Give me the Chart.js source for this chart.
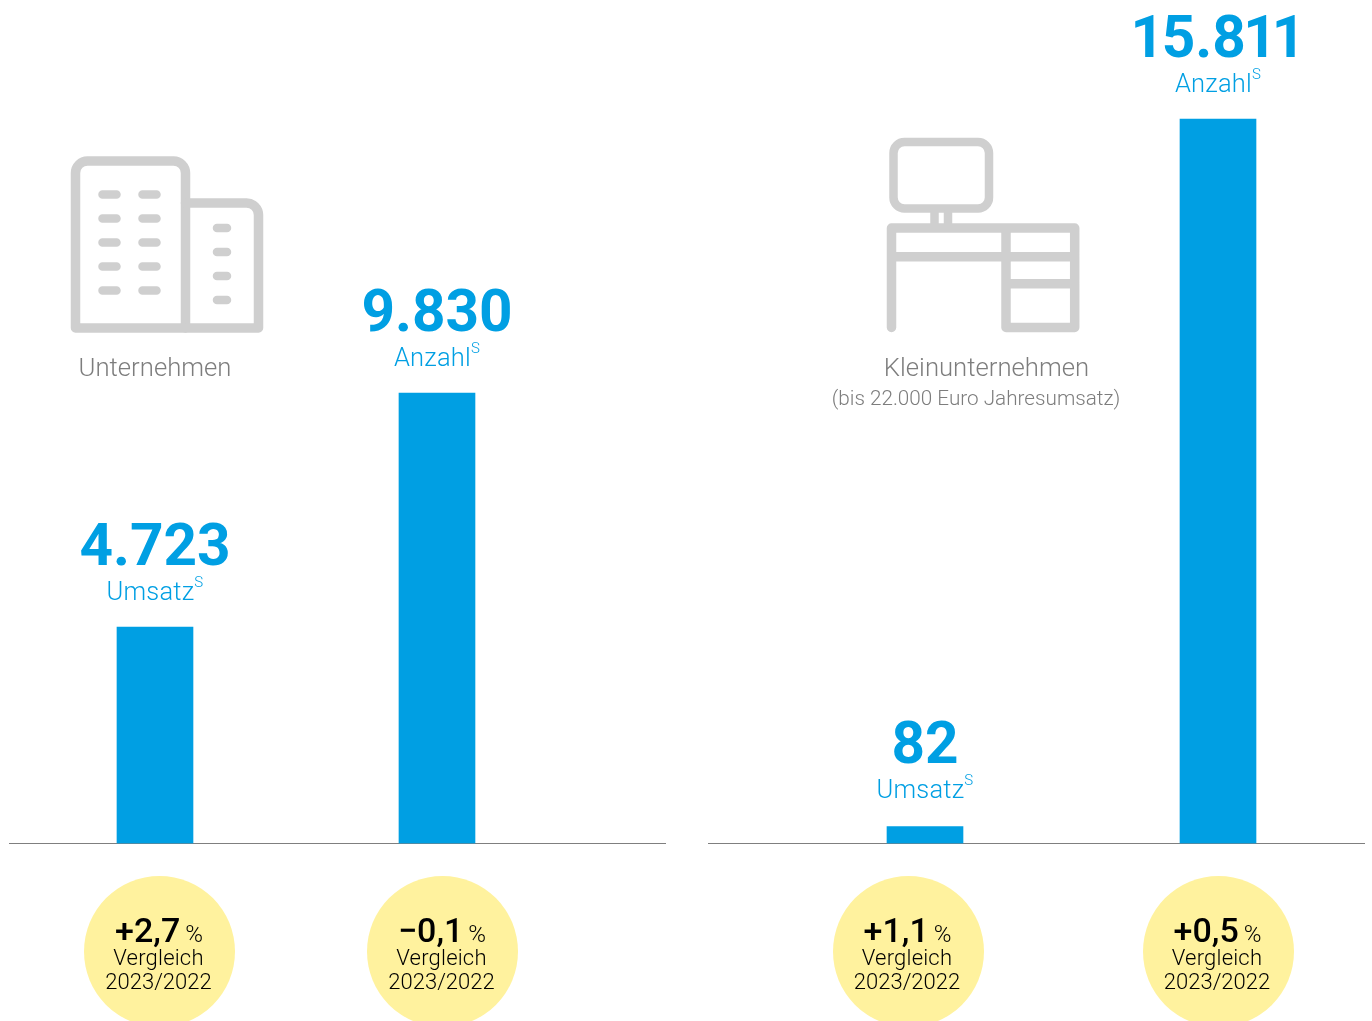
<!DOCTYPE html>
<html lang="de">
<head>
<meta charset="utf-8">
<script src="https://cdn.jsdelivr.net/npm/chart.js@4"></script>
<style>
html,body{margin:0;padding:0;background:#fff;width:1372px;height:1021px;overflow:hidden}
#page{position:relative;width:1372px;height:1021px;overflow:hidden;font-family:Roboto,sans-serif}
canvas{position:absolute;top:0}
.t{position:absolute;white-space:nowrap;transform:translateX(-50%);line-height:1}
.c{position:absolute;width:151px;height:151px;border-radius:50%;background:#fff29e;top:876px}
svg{position:absolute;left:0;top:0}
</style>
</head>
<body>
<div id="page">
<canvas id="left" width="657" height="1021" style="left:9px"></canvas>
<canvas id="right" width="657" height="1021" style="left:708px"></canvas>
<svg width="1372" height="1021" fill="none" stroke="#cfcfcf" stroke-width="9.5" stroke-linecap="round" stroke-linejoin="round">
  <path d="M75.5 328V173a12 12 0 0 1 12-12h86a12 12 0 0 1 12 12V328z"/>
  <path d="M185.5 203h61a12 12 0 0 1 12 12V328H185.5"/>
  <g stroke-width="8.5">
    <path d="M102.5 194.5h14M142.5 194.5h14M102.5 218.5h14M142.5 218.5h14M102.5 242.5h14M142.5 242.5h14M102.5 266.5h14M142.5 266.5h14M102.5 290.5h14M142.5 290.5h14"/>
    <path d="M217 228h10M217 252h10M217 276h10M217 300h10"/>
    <rect x="893.5" y="142" width="95.5" height="66.5" rx="11"/>
    <path d="M934.5 212v12M948 212v12"/>
  </g>
  <path d="M891.5 228H1074.7V327.5H1006V228M891.5 228V327.5M891.5 256.7H1074.7M1006 283.7H1074.7"/>
</svg>
</div>
<script>
const leftCategories = ["Umsatz", "Anzahl"];
const leftValues = [4723, 9830];
const leftValueLabels = ["4.723", "9.830"];
const rightCategories = ["Umsatz", "Anzahl"];
const rightValues = [82, 15811];
const rightValueLabels = ["82", "15.811"];
const changes = ["+2,7", "\u22120,1", "+1,1", "+0,5"];
const changeCenters = [159.5, 442.5, 908, 1218];
const compareLabel = "Vergleich";
const compareYears = "2023/2022";
const BLUE = "#009fe3";
const Y_MAX = 18410;

const valueLabels = {
  id: "valueLabels",
  afterDatasetsDraw(chart, args, opts) {
    const ctx = chart.ctx;
    const meta = chart.getDatasetMeta(0);
    meta.data.forEach((bar, i) => {
      ctx.save();
      ctx.fillStyle = BLUE;
      ctx.textBaseline = "alphabetic";
      ctx.textAlign = "left";
      // the stub bar's labels sit slightly higher in the reference
      const lift = chart.data.datasets[0].data[i].y < 1000 ? 2 : 0;
      ctx.font = "700 58.5px Roboto, sans-serif";
      // the reference sets the digit 1 narrower than the other figures
      const label = opts.labels[i];
      const chars = [...label];
      const adv = c => ctx.measureText(c).width - (c === "1" ? 5 : 0);
      const total = chars.reduce((s, c) => s + adv(c), 0);
      let cx = bar.x - total / 2;
      const by = bar.y - 62 - lift;
      if (!label.includes("1")) {
        ctx.fillText(label, cx, by);
      } else {
        chars.forEach(c => {
          ctx.fillText(c, cx - (c === "1" ? 2.5 : 0), by);
          cx += adv(c);
        });
      }
      const name = chart.data.labels[i];
      ctx.font = "300 25.5px Roboto, sans-serif";
      ctx.letterSpacing = "0.2px";
      const w = ctx.measureText(name).width;
      ctx.font = "300 15px Roboto, sans-serif";
      const sw = ctx.measureText("S").width;
      const x0 = bar.x - (w + sw) / 2;
      ctx.font = "300 25.5px Roboto, sans-serif";
      ctx.fillText(name, x0, bar.y - 27 - lift);
      ctx.font = "300 15px Roboto, sans-serif";
      ctx.fillText("S", x0 + w, bar.y - 40 - lift);
      ctx.restore();
    });
  }
};

function build(id, labels, values, texts, xMin, xMax) {
  new Chart(document.getElementById(id), {
    type: "bar",
    data: {
      labels,
      datasets: [{
        data: values.map((v, i) => ({ x: i, y: v })),
        backgroundColor: BLUE,
        barThickness: 76,
        minBarLength: 17,
        borderWidth: 0
      }]
    },
    options: {
      responsive: false,
      animation: false,
      layout: { padding: { bottom: 177.5, top: 0, left: 0, right: 0 } },
      plugins: { legend: { display: false }, tooltip: { enabled: false }, valueLabels: { labels: texts } },
      scales: {
        x: {
          type: "linear", min: xMin, max: xMax, offset: false,
          grid: { display: false, drawTicks: false, offset: false },
          ticks: { display: false },
          border: { color: "#7f7f7f", width: 1 },
          afterFit(s) { s.height = 0; }
        },
        y: { display: false, min: 0, max: Y_MAX }
      }
    },
    plugins: [valueLabels]
  });
}
build("left", leftCategories, leftValues, leftValueLabels, -0.5177, 1.8121);
build("right", rightCategories, rightValues, rightValueLabels, -0.7406, 1.5017);

function text(str, x, baseline, size, color, weight, spacing) {
  const d = document.createElement("div");
  d.className = "t";
  d.textContent = str;
  d.style.cssText = `left:${x}px;top:${baseline - size * 0.86}px;font-size:${size}px;color:${color};font-weight:${weight || 400};letter-spacing:${spacing || 0}px`;
  document.getElementById("page").appendChild(d);
  return d;
}
text("Unternehmen", 155, 377, 25.7, "#7d7d7d", 300, 0);
text("Kleinunternehmen", 986.5, 377, 25.7, "#7d7d7d", 300, 0);
text("(bis 22.000 Euro Jahresumsatz)", 976, 405.5, 20.7, "#7d7d7d", 300, 0);
changes.forEach((c, i) => {
  const x = changeCenters[i];
  const circle = document.createElement("div");
  circle.className = "c";
  circle.style.left = (x - 75.5) + "px";
  document.getElementById("page").appendChild(circle);
  const d = text(c, x - 0.5, 942, 34, "#000", 500);
  const p = document.createElement("span");
  p.textContent = "\u2009%";
  p.style.cssText = "font-size:24px;font-weight:300";
  d.appendChild(p);
  text(compareLabel, x - 1, 966, 22, "#000", 300, 0.2);
  text(compareYears, x - 1, 990, 22, "#000", 300, 0);
});
</script>
</body>
</html>
